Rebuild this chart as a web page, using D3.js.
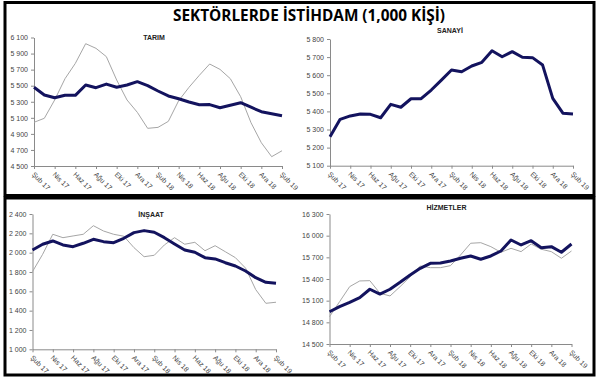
<!DOCTYPE html>
<html>
<head>
<meta charset="utf-8">
<script src="https://cdn.jsdelivr.net/npm/d3@7"></script>
<style>
  body { margin: 0; background: #fff; }
  svg { display: block; font-family: "Liberation Sans", Arial, sans-serif; }
  .tick text { fill: #444; font-size: 7px; }
  .domain, .tick line { stroke: #8a8a8a; }
</style>
</head>
<body>
<svg></svg>
<script>
// months on the x axis (Feb 2017 - Feb 2019)
const months = ["Şub 17", "Mar 17", "Nis 17", "May 17", "Haz 17", "Tem 17", "Ağu 17", "Eyl 17",
  "Eki 17", "Kas 17", "Ara 17", "Oca 18", "Şub 18", "Mar 18", "Nis 18", "May 18", "Haz 18",
  "Tem 18", "Ağu 18", "Eyl 18", "Eki 18", "Kas 18", "Ara 18", "Oca 19", "Şub 19"];
// only every second month gets a label
const monthTicks = months.filter((d, i) => i % 2 === 0);

// TARIM
const tarimSA = [5480, 5384, 5350, 5380, 5380, 5508, 5475, 5520, 5480, 5508, 5550, 5500, 5434,
  5372, 5338, 5297, 5263, 5265, 5226, 5256, 5288, 5232, 5176, 5151, 5126];
const tarimRaw = [5044, 5094, 5322, 5587, 5778, 6023, 5965, 5862, 5571, 5322, 5168, 4969, 4981,
  5056, 5313, 5480, 5629, 5770, 5703, 5587, 5363, 5039, 4790, 4616, 4690];
const tarimTicks = [4500, 4700, 4900, 5100, 5300, 5500, 5700, 5900, 6100];

// SANAYİ
const sanayiSA = [5260, 5356, 5375, 5386, 5384, 5365, 5439, 5423, 5470, 5470, 5518, 5573, 5629,
  5619, 5651, 5671, 5735, 5702, 5730, 5699, 5697, 5656, 5472, 5390, 5386];
const sanayiTicks = [5100, 5200, 5300, 5400, 5500, 5600, 5700, 5800];

// İNŞAAT
const insaatSA = [2028, 2087, 2121, 2080, 2062, 2097, 2138, 2114, 2103, 2149, 2207, 2228, 2211,
  2155, 2090, 2028, 2004, 1948, 1935, 1896, 1862, 1810, 1741, 1693, 1683];
const insaatRaw = [1804, 1983, 2190, 2155, 2173, 2190, 2279, 2224, 2190, 2170, 2052, 1958, 1973,
  2080, 2155, 2087, 2107, 2020, 2072, 2010, 1948, 1840, 1618, 1476, 1487];
const insaatTicks = [1000, 1200, 1400, 1600, 1800, 2000, 2200, 2400];

// HİZMETLER
const hizmetSA = [14947, 15017, 15077, 15141, 15258, 15192, 15258, 15354, 15456, 15548, 15617,
  15622, 15650, 15687, 15719, 15673, 15719, 15788, 15940, 15871, 15931, 15834, 15848, 15770, 15885];
const hizmetRaw = [14878, 15086, 15294, 15373, 15377, 15203, 15165, 15294, 15432, 15580, 15557,
  15557, 15585, 15733, 15895, 15903, 15848, 15770, 15825, 15779, 15885, 15812, 15779, 15687, 15788];
const hizmetTicks = [14500, 14800, 15100, 15400, 15700, 16000, 16300];

const svg = d3.select("svg").attr("width", 600).attr("height", 384);

// frames
svg.append("rect").attr("x", 5).attr("y", 2.5).attr("width", 589).attr("height", 193)
  .attr("fill", "none").attr("stroke", "#000").attr("stroke-width", 3);
svg.append("rect").attr("x", 5).attr("y", 198).attr("width", 589).attr("height", 177)
  .attr("fill", "none").attr("stroke", "#000").attr("stroke-width", 3);

// main title
svg.append("text")
  .attr("x", 309).attr("y", 21)
  .attr("text-anchor", "middle")
  .attr("textLength", 272).attr("lengthAdjust", "spacingAndGlyphs")
  .style("font-family", "'Open Sans', sans-serif")
  .style("font-weight", "bold").style("font-size", "16px")
  .text("SEKTÖRLERDE İSTİHDAM (1,000 KİŞİ)");

const panels = [
  { title: "TARIM", sa: tarimSA, raw: tarimRaw, ticks: tarimTicks,
    x0: 34, x1: 282, yTop: 37.5, yBot: 166, tx: 154, ty: 40 },
  { title: "SANAYİ", sa: sanayiSA, raw: null, ticks: sanayiTicks,
    x0: 330, x1: 573, yTop: 39, yBot: 165.7, tx: 450, ty: 33 },
  { title: "İNŞAAT", sa: insaatSA, raw: insaatRaw, ticks: insaatTicks,
    x0: 32.5, x1: 276, yTop: 214, yBot: 349.3, tx: 151, ty: 216.5 },
  { title: "HİZMETLER", sa: hizmetSA, raw: hizmetRaw, ticks: hizmetTicks,
    x0: 329.5, x1: 571.5, yTop: 214, yBot: 344, tx: 446.5, ty: 209.5 }
];

const fmt = d3.format(",");

panels.forEach(p => {
  const x = d3.scalePoint().domain(months).range([p.x0, p.x1]);
  const y = d3.scaleLinear().domain(d3.extent(p.ticks)).range([p.yBot, p.yTop]);

  const g = svg.append("g");

  // y axis
  g.append("g")
    .attr("transform", `translate(${p.x0},0)`)
    .call(d3.axisLeft(y).tickValues(p.ticks).tickSize(3).tickSizeOuter(0)
      .tickFormat(d => fmt(d).replace(",", " ")))
    .call(a => a.selectAll("text").style("font-size", "7px"));

  // x axis
  g.append("g")
    .attr("transform", `translate(0,${p.yBot})`)
    .call(d3.axisBottom(x).tickValues(monthTicks).tickSize(3).tickSizeOuter(0))
    .call(a => a.selectAll("text")
      .attr("x", 0).attr("y", 0).attr("dy", 0)
      .attr("transform", "translate(-3,9) rotate(45)")
      .style("text-anchor", "start"));

  // lines
  const line = d3.line().x((d, i) => x(months[i])).y(d => y(d));

  if (p.raw) {
    g.append("path")
      .datum(p.raw)
      .attr("d", line)
      .attr("fill", "none")
      .attr("stroke", "#a6a6a6")
      .attr("stroke-width", 1);
  }

  g.append("path")
    .datum(p.sa)
    .attr("d", line)
    .attr("fill", "none")
    .attr("stroke", "#13135e")
    .attr("stroke-width", 3)
    .attr("stroke-linejoin", "round");

  // panel title
  g.append("text")
    .attr("x", p.tx).attr("y", p.ty)
    .attr("text-anchor", "middle")
    .style("font-weight", "bold").style("font-size", "7px")
    .style("fill", "#222")
    .text(p.title);
});
</script>
</body>
</html>
